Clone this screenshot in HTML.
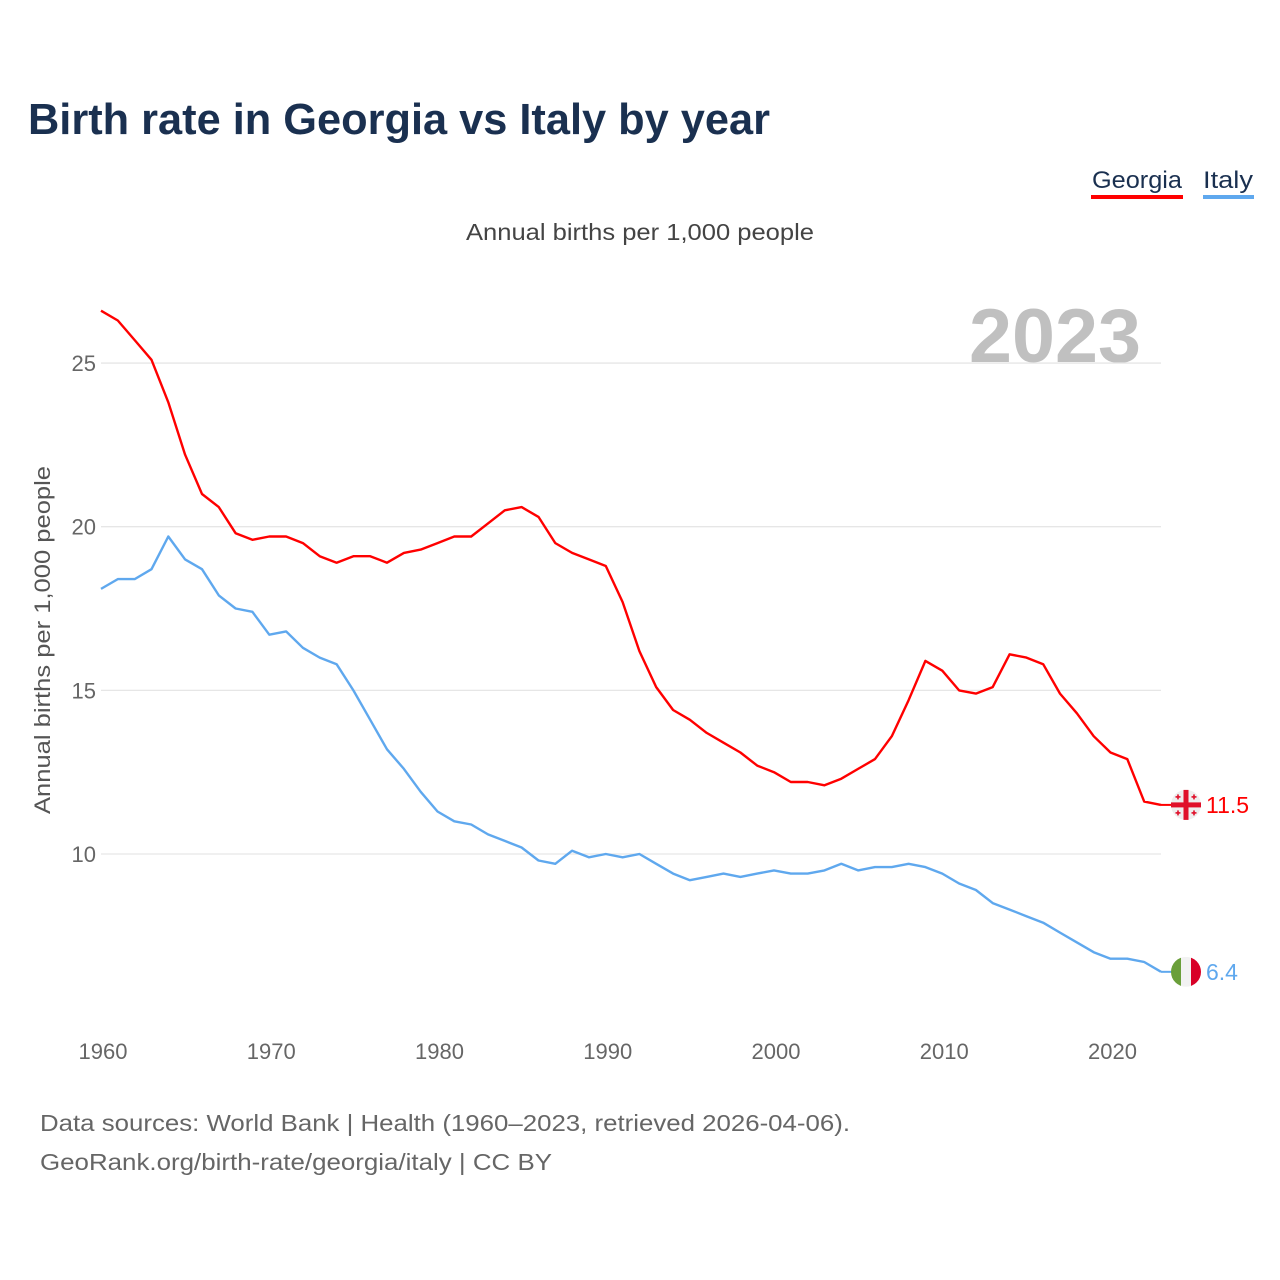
<!DOCTYPE html>
<html><head><meta charset="utf-8"><style>
html,body{margin:0;padding:0;background:#fff;}
svg{display:block;font-family:"Liberation Sans",sans-serif;}
</style></head><body>
<svg id="chart" width="1280" height="1280" viewBox="0 0 1280 1280" xmlns="http://www.w3.org/2000/svg">
<text x="28" y="134" font-size="44" font-weight="bold" fill="#1a3050" textLength="742" lengthAdjust="spacingAndGlyphs">Birth rate in Georgia vs Italy by year</text>
<g>
<text x="1092" y="188" font-size="24" fill="#1a3050" textLength="90" lengthAdjust="spacingAndGlyphs">Georgia</text>
<rect x="1091" y="195" width="92" height="4" fill="#ff0000"/>
</g>
<g>
<text x="1203" y="188" font-size="24" fill="#1a3050" textLength="50" lengthAdjust="spacingAndGlyphs">Italy</text>
<rect x="1203" y="195" width="51" height="4" fill="#5fa8ee"/>
</g>
<text x="640" y="240" font-size="23" fill="#444" text-anchor="middle" textLength="348" lengthAdjust="spacingAndGlyphs">Annual births per 1,000 people</text>
<text x="1141" y="362" font-size="76" font-weight="bold" fill="#c0c0c0" text-anchor="end" textLength="172" lengthAdjust="spacingAndGlyphs">2023</text>
<text transform="translate(50,640) rotate(-90)" font-size="22" fill="#555" text-anchor="middle" textLength="348" lengthAdjust="spacingAndGlyphs">Annual births per 1,000 people</text>
<g id="grid"></g><g id="series"></g><g id="labels"></g>
<text x="40" y="1131" font-size="23" fill="#666" textLength="810" lengthAdjust="spacingAndGlyphs">Data sources: World Bank | Health (1960–2023, retrieved 2026-04-06).</text>
<text x="40" y="1170" font-size="23" fill="#666" textLength="512" lengthAdjust="spacingAndGlyphs">GeoRank.org/birth-rate/georgia/italy | CC BY</text>
</svg>
<script>
const years = [];
for (let y = 1960; y <= 2023; y++) years.push(y);
const georgia = [26.6,26.3,25.7,25.1,23.8,22.2,21.0,20.6,19.8,19.6,19.7,19.7,19.5,19.1,18.9,19.1,19.1,18.9,19.2,19.3,19.5,19.7,19.7,20.1,20.5,20.6,20.3,19.5,19.2,19.0,18.8,17.7,16.2,15.1,14.4,14.1,13.7,13.4,13.1,12.7,12.5,12.2,12.2,12.1,12.3,12.6,12.9,13.6,14.7,15.9,15.6,15.0,14.9,15.1,16.1,16.0,15.8,14.9,14.3,13.6,13.1,12.9,11.6,11.5];
const italy = [18.1,18.4,18.4,18.7,19.7,19.0,18.7,17.9,17.5,17.4,16.7,16.8,16.3,16.0,15.8,15.0,14.1,13.2,12.6,11.9,11.3,11.0,10.9,10.6,10.4,10.2,9.8,9.7,10.1,9.9,10.0,9.9,10.0,9.7,9.4,9.2,9.3,9.4,9.3,9.4,9.5,9.4,9.4,9.5,9.7,9.5,9.6,9.6,9.7,9.6,9.4,9.1,8.9,8.5,8.3,8.1,7.9,7.6,7.3,7.0,6.8,6.8,6.7,6.4];
const yTicks = [10, 15, 20, 25];
const xTicks = [1960, 1970, 1980, 1990, 2000, 2010, 2020];

const NS = "http://www.w3.org/2000/svg";
const X0 = 101, X1 = 1161;
function xs(yr) { return X0 + (yr - 1960) * (X1 - X0) / 63; }
function ys(v) { return 854 - (v - 10) * 32.73; }
function mk(tag, attrs, parent) {
  const e = document.createElementNS(NS, tag);
  for (const k in attrs) e.setAttribute(k, attrs[k]);
  parent.appendChild(e); return e;
}
const grid = document.getElementById('grid');
yTicks.forEach(t => {
  const l = mk('line', {x1: 101, x2: X1, y1: ys(t), y2: ys(t), stroke: '#e6e6e6', 'stroke-width': 1.3}, grid);
  
  
  const tx = mk('text', {x: 96, y: ys(t) + 8, 'font-size': 22, fill: '#666', 'text-anchor': 'end'}, grid);
  tx.textContent = t;
  
  
});
xTicks.forEach(t => {
  const tx = mk('text', {x: xs(t) + 2, y: 1059, 'font-size': 22, fill: '#666', 'text-anchor': 'middle'}, grid);
  tx.textContent = t;
  
  
});
const series = document.getElementById('series');
function line(vals, color, name) {
  const d = vals.map((v, i) => (i ? 'L' : 'M') + xs(years[i]).toFixed(1) + ',' + ys(v).toFixed(1)).join('');
  const p = mk('path', {d: d, fill: 'none', stroke: color, 'stroke-width': 2.4, 'stroke-linejoin': 'round'}, series);
  
  
}
line(georgia, '#ff0000', 'georgia-line');
line(italy, '#5fa8ee', 'italy-line');

const labels = document.getElementById('labels');
// Georgia end marker
const gv = georgia[georgia.length - 1], gy = ys(gv), cx = 1186;
const gl = mk('line', {x1: X1, x2: cx - 14, y1: gy, y2: gy, stroke: '#ff0000', 'stroke-width': 2}, labels);


const gf = mk('g', {}, labels);


mk('circle', {cx: cx, cy: gy, r: 15, fill: '#eeeeee'}, gf);
mk('rect', {x: cx - 15, y: gy - 2.5, width: 30, height: 5, fill: '#e0102a'}, gf);
mk('rect', {x: cx - 2.5, y: gy - 15, width: 5, height: 30, fill: '#e0102a'}, gf);
[[-8,-8],[8,-8],[-8,8],[8,8]].forEach(o => {
  mk('rect', {x: cx + o[0] - 2.5, y: gy + o[1] - 0.8, width: 5, height: 1.6, fill: '#e0102a'}, gf);
  mk('rect', {x: cx + o[0] - 0.8, y: gy + o[1] - 2.5, width: 1.6, height: 5, fill: '#e0102a'}, gf);
});
const gt = mk('text', {x: 1206, y: gy + 8, 'font-size': 23, fill: '#ff0000'}, labels);
gt.textContent = gv.toFixed(1);


// Italy end marker
const iv = italy[italy.length - 1], iy = ys(iv);
const il = mk('line', {x1: X1, x2: cx - 14, y1: iy, y2: iy, stroke: '#5fa8ee', 'stroke-width': 2}, labels);


const ifl = mk('g', {}, labels);


const defs = mk('defs', {}, labels);
const cp = mk('clipPath', {id: 'itc'}, defs);
mk('circle', {cx: cx, cy: iy, r: 15}, cp);
const ig = mk('g', {'clip-path': 'url(#itc)'}, ifl);
mk('rect', {x: cx - 15, y: iy - 15, width: 10, height: 30, fill: '#6a9f3a'}, ig);
mk('rect', {x: cx - 5, y: iy - 15, width: 10, height: 30, fill: '#f2f2f2'}, ig);
mk('rect', {x: cx + 5, y: iy - 15, width: 10, height: 30, fill: '#d80027'}, ig);
const it = mk('text', {x: 1206, y: iy + 8, 'font-size': 23, fill: '#5fa8ee'}, labels);
it.textContent = iv.toFixed(1);


</script>
</body></html>
